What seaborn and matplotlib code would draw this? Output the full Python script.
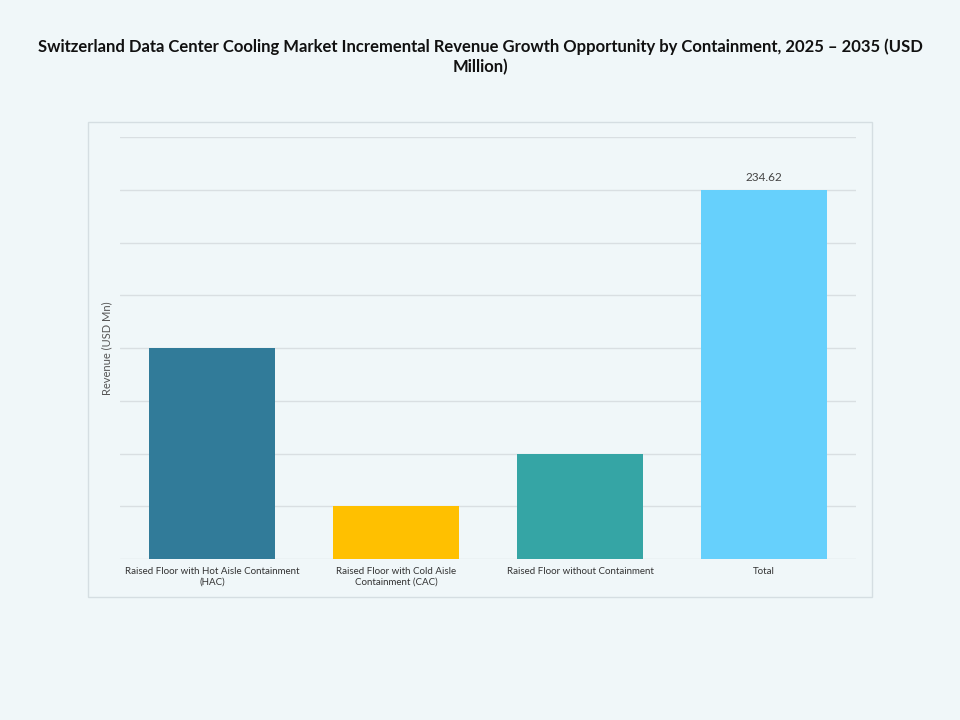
import matplotlib
matplotlib.use("Agg")
import matplotlib.pyplot as plt
import pandas as pd
import seaborn as sns
from matplotlib.patches import Rectangle

BG = "#f0f7f9"

categories = [
    "Raised Floor with Hot Aisle Containment\n(HAC)",
    "Raised Floor with Cold Aisle\nContainment (CAC)",
    "Raised Floor without Containment",
    "Total",
]
revenue = [134.07, 33.52, 67.03, 234.62]
bar_colors = ["#317b99", "#ffc000", "#35a5a5", "#66d0fc"]
title = ("Switzerland Data Center Cooling Market Incremental Revenue Growth Opportunity "
         "by Containment, 2025 \u2013 2035 (USD\nMillion)")

sns.set_theme(style="whitegrid")
plt.rcParams["font.family"] = ["Lato", "DejaVu Sans"]

df = pd.DataFrame({"segment": categories, "revenue": revenue})

fig = plt.figure(figsize=(9.6, 7.2), dpi=100, facecolor=BG)
# outer frame around the plot area
fig.patches.append(Rectangle((88 / 960, 1 - 597 / 720), 784 / 960, 475 / 720,
                             transform=fig.transFigure, facecolor=BG,
                             edgecolor="#d5dee2", linewidth=1.0, zorder=-10))
ax = fig.add_axes([120 / 960, 1 - 559 / 720, 736 / 960, 422 / 720])
ax.set_facecolor(BG)

sns.barplot(data=df, x="segment", y="revenue", hue="segment", palette=bar_colors,
            width=0.685, legend=False, saturation=1, linewidth=0, ax=ax)

step = revenue[-1] / 7
ax.set_ylim(0, step * 8)
ax.set_yticks([step * i for i in range(9)])
ax.set_yticklabels([])
ax.set_xlim(-0.5, 3.5)
ax.grid(axis="y", color="#d9dfe2", linewidth=1.0)
ax.grid(axis="x", visible=False)
ax.set_axisbelow(True)
for s in ax.spines.values():
    s.set_visible(False)
ax.tick_params(axis="both", length=0)
ax.tick_params(axis="x", labelsize=7, labelcolor="#333333", pad=6)
ax.set_xlabel("")
ax.set_ylabel("Revenue (USD Mn)", fontsize=8, color="#555555", labelpad=2)

ax.text(3, revenue[-1] + step * 0.12, f"{revenue[-1]:.2f}", ha="center", va="bottom",
        fontsize=8.5, color="#444444")

fig.suptitle(title, x=0.5, y=1 - 38 / 720, va="top", fontsize=12, fontweight="bold",
             color="#111111", linespacing=1.35)

fig.savefig("out.png", dpi=100, facecolor=BG)
